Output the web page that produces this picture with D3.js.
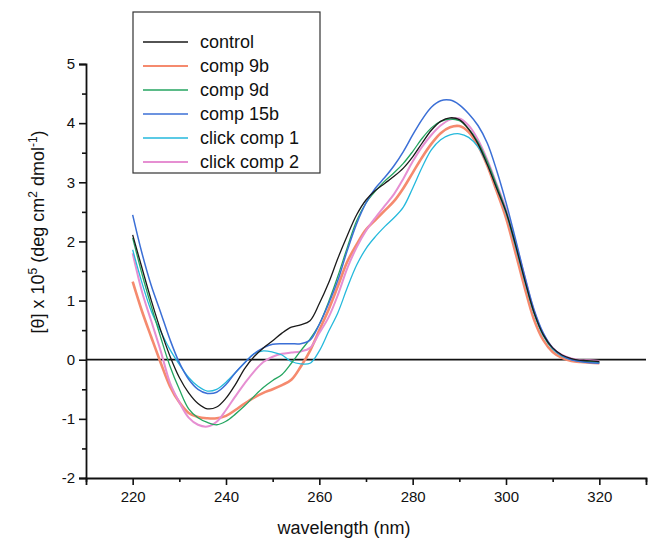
<!DOCTYPE html>
<html>
<head>
<meta charset="utf-8">
<script src="https://cdn.jsdelivr.net/npm/d3@7"></script>
<style>
  body { margin: 0; background: #fff; }
  text { font-family: "Liberation Sans", Arial, sans-serif; fill: #111; }
</style>
</head>
<body>
<div id="chart"></div>
<script>
// wavelength grid (nm)
const wavelength = [220,222,224,226,228,230,232,234,236,238,240,242,244,246,248,250,252,254,256,258,
  260,262,264,266,268,270,272,274,276,278,280,282,284,286,288,290,292,294,296,298,300,302,304,306,308,310,
  312,314,316,318,320];

// ellipticity x 10^5
const control = [2.11,1.55,1.0,0.5,0.06,-0.3,-0.56,-0.74,-0.83,-0.8,-0.65,-0.42,-0.15,0.05,0.2,0.32,0.45,0.55,0.59,0.66,
  0.95,1.3,1.72,2.1,2.45,2.7,2.86,2.98,3.1,3.24,3.43,3.66,3.88,4.03,4.09,4.06,3.9,3.65,3.3,2.9,2.5,1.95,1.35,0.8,0.42,0.2,
  0.08,0.02,-0.01,-0.02,-0.03];
const comp9b = [1.32,0.82,0.38,-0.05,-0.45,-0.72,-0.9,-0.97,-0.99,-0.99,-0.95,-0.85,-0.74,-0.64,-0.56,-0.5,-0.43,-0.34,-0.12,0.15,
  0.5,0.85,1.25,1.66,1.95,2.2,2.36,2.52,2.68,2.9,3.16,3.42,3.65,3.83,3.93,3.95,3.85,3.62,3.28,2.85,2.4,1.82,1.22,0.68,0.33,0.13,
  0.03,-0.02,-0.04,-0.05,-0.06];
const comp9d = [2.06,1.45,0.9,0.38,-0.11,-0.5,-0.83,-0.98,-1.06,-1.1,-1.04,-0.92,-0.78,-0.62,-0.47,-0.35,-0.25,-0.06,0.15,0.35,
  0.6,0.98,1.42,1.9,2.35,2.65,2.85,3.02,3.16,3.32,3.52,3.74,3.92,4.03,4.07,4.04,3.9,3.68,3.35,2.95,2.52,1.98,1.37,0.8,0.42,0.19,
  0.07,0.01,-0.02,-0.03,-0.04];
const comp15b = [2.45,1.8,1.25,0.8,0.34,-0.05,-0.33,-0.5,-0.57,-0.55,-0.42,-0.22,-0.05,0.1,0.2,0.26,0.27,0.27,0.27,0.33,
  0.6,0.95,1.35,1.85,2.3,2.65,2.9,3.08,3.28,3.52,3.8,4.06,4.27,4.38,4.39,4.31,4.16,3.96,3.66,3.2,2.66,2.05,1.42,0.85,0.45,0.2,
  0.07,0.0,-0.03,-0.05,-0.06];
const click1 = [1.86,1.3,0.82,0.48,0.17,-0.08,-0.3,-0.45,-0.53,-0.5,-0.38,-0.22,-0.05,0.1,0.15,0.13,0.08,-0.03,-0.07,-0.06,
  0.15,0.48,0.8,1.22,1.6,1.88,2.08,2.25,2.4,2.58,2.9,3.25,3.55,3.72,3.8,3.82,3.76,3.6,3.3,2.9,2.48,1.92,1.33,0.78,0.4,0.18,
  0.06,0.0,-0.03,-0.04,-0.05];
const click2 = [1.8,1.15,0.65,0.15,-0.39,-0.72,-0.98,-1.1,-1.13,-1.05,-0.85,-0.62,-0.4,-0.2,-0.04,0.05,0.1,0.12,0.14,0.2,
  0.45,0.72,1.1,1.55,1.9,2.18,2.4,2.6,2.8,3.06,3.35,3.6,3.8,3.96,4.06,4.08,3.96,3.72,3.38,2.97,2.55,2.0,1.4,0.82,0.43,0.2,
  0.08,0.02,-0.01,-0.01,-0.02];

const seriesNames = ["control", "comp 9b", "comp 9d", "comp 15b", "click comp 1", "click comp 2"];
const seriesValues = [control, comp9b, comp9d, comp15b, click1, click2];
const seriesColors = ["#1a1a1a", "#f58a6e", "#24a560", "#3b6fd6", "#25b9dc", "#e68fd2"];
const seriesWidths = [1.3, 2.6, 1.3, 1.5, 1.3, 2.0];
const drawOrder = [1, 5, 4, 2, 3, 0];

const xTicks = [220, 240, 260, 280, 300, 320];
const yTicks = [-2, -1, 0, 1, 2, 3, 4, 5];

const width = 648, height = 540;
const margin = {top: 64, right: 2, bottom: 62, left: 86};

const svg = d3.select("#chart").append("svg")
  .attr("width", width)
  .attr("height", height);

const x = d3.scaleLinear().domain([210, 330]).range([margin.left, width - margin.right]);
const y = d3.scaleLinear().domain([-2, 5]).range([height - margin.bottom, margin.top]);

// zero line
svg.append("line")
  .attr("x1", x(210)).attr("x2", x(330))
  .attr("y1", y(0)).attr("y2", y(0))
  .attr("stroke", "#111").attr("stroke-width", 1.8);

// curves
const line = d3.line()
  .x((d, i) => x(wavelength[i]))
  .y(d => y(d))
  .curve(d3.curveCatmullRom.alpha(0.5));

drawOrder.forEach(k => {
  svg.append("path")
    .datum(seriesValues[k])
    .attr("fill", "none")
    .attr("stroke", seriesColors[k])
    .attr("stroke-width", seriesWidths[k])
    .attr("stroke-linejoin", "round")
    .attr("d", line);
});

// axes (plain hyphen for negatives, as in the original)
const fmt = d => String(d);
const xAxis = d3.axisBottom(x).tickValues(xTicks).tickSize(7).tickPadding(6).tickFormat(fmt);
const xMinor = d3.axisBottom(x).tickValues(d3.range(210, 331, 10).filter(v => !xTicks.includes(v))).tickSize(4).tickFormat("");
const yAxis = d3.axisLeft(y).tickValues(yTicks).tickSize(7).tickPadding(4).tickFormat(fmt);
const yMinor = d3.axisLeft(y).tickValues(d3.range(-1.5, 5, 1)).tickSize(4).tickFormat("");

function styleAxis(g) {
  g.select(".domain").attr("stroke", "#111").attr("stroke-width", 1.8);
  g.selectAll(".tick line").attr("stroke", "#111").attr("stroke-width", 1.6);
  g.selectAll(".tick text").style("font-size", "15px").attr("fill", "#111")
    .style("font-family", "'Liberation Sans', Arial, sans-serif");
}

const gx = svg.append("g").attr("transform", `translate(0,${y(-2)})`);
gx.call(xAxis).call(styleAxis);
svg.append("g").attr("transform", `translate(0,${y(-2)})`).call(xMinor).call(styleAxis)
  .select(".domain").remove();

const gy = svg.append("g").attr("transform", `translate(${x(210)},0)`);
gy.call(yAxis).call(styleAxis);
svg.append("g").attr("transform", `translate(${x(210)},0)`).call(yMinor).call(styleAxis)
  .select(".domain").remove();

// axis titles
svg.append("text")
  .attr("x", 344).attr("y", 534)
  .attr("text-anchor", "middle")
  .style("font-size", "18px")
  .text("wavelength (nm)");

const yt = svg.append("text")
  .attr("transform", "translate(44,232) rotate(-90)")
  .attr("text-anchor", "middle")
  .style("font-size", "18px");
yt.append("tspan").text("[θ] x 10");
yt.append("tspan").attr("dy", -7).style("font-size", "12px").text("5");
yt.append("tspan").attr("dy", 7).text(" (deg cm");
yt.append("tspan").attr("dy", -7).style("font-size", "12px").text("2");
yt.append("tspan").attr("dy", 7).text(" dmol");
yt.append("tspan").attr("dy", -7).style("font-size", "12px").text("-1");
yt.append("tspan").attr("dy", 7).text(")");

// legend
const legend = svg.append("g");
legend.append("rect")
  .attr("x", 133).attr("y", 12)
  .attr("width", 187).attr("height", 161)
  .attr("fill", "#fff").attr("stroke", "#333").attr("stroke-width", 1.2);

seriesNames.forEach((name, i) => {
  const cy = 42 + i * 24;
  legend.append("line")
    .attr("x1", 143).attr("x2", 188)
    .attr("y1", cy).attr("y2", cy)
    .attr("stroke", seriesColors[i])
    .attr("stroke-width", Math.min(seriesWidths[i], 2.2));
  legend.append("text")
    .attr("x", 200).attr("y", cy)
    .attr("dy", "0.36em")
    .style("font-size", "18px")
    .text(name);
});
</script>
</body>
</html>
